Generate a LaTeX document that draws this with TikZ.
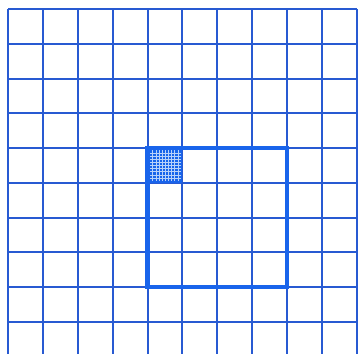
\documentclass[tikz,border=0pt]{standalone}
\definecolor{gridblue}{RGB}{40,90,210}
\definecolor{fillblue}{RGB}{25,100,235}
\tikzset{thin grid/.style={draw=gridblue, line width=2pt},
         thick frame/.style={draw=fillblue, line width=4.5pt},
         sub grid/.style={draw=white!70!fillblue, line width=0.45pt}}
\begin{document}
\begin{tikzpicture}[x=1pt,y=-1pt]
\useasboundingbox (0,0) rectangle (360,354);
\fill[white] (0,0) rectangle (360,354);
% thin grid
\foreach \i in {0,...,10} {
  \draw[thin grid] ({8.3+34.84*\i},9.3) -- ({8.3+34.84*\i},357);
  \draw[thin grid] (8.3,{9.3+34.73*\i}) -- (356.7,{9.3+34.73*\i});
}
% filled small cell
\fill[fillblue] (147.7,148.2) rectangle (182.5,182.9);
\foreach \k in {1,...,9} {
  \draw[sub grid] ({149.5+3.15*\k},150) -- ({149.5+3.15*\k},181);
  \draw[sub grid] (149.5,{150+3.1*\k}) -- (181,{150+3.1*\k});
}
% thick frame
\draw[thick frame] (147.7,148.2) rectangle (287.1,287.1);
\end{tikzpicture}
\end{document}
